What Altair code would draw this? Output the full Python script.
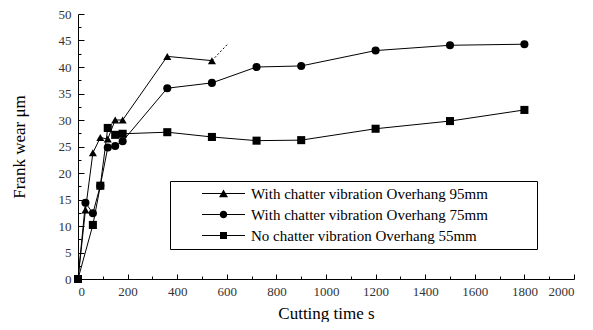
import altair as alt
import pandas as pd

series_names = [
    "With chatter vibration Overhang 95mm",
    "With chatter vibration Overhang 75mm",
    "No chatter vibration Overhang 55mm",
]
t95 = [0, 30, 60, 90, 120, 150, 180, 360, 540]
w95 = [0, 13.0, 23.8, 26.7, 26.4, 30.0, 30.0, 42.0, 41.2]
t75 = [0, 30, 60, 90, 120, 150, 180, 360, 540, 720, 900, 1200, 1500, 1800]
w75 = [0, 14.4, 12.4, 17.6, 24.8, 25.1, 26.0, 36.0, 37.0, 40.0, 40.2, 43.1, 44.1, 44.3]
t55 = [0, 60, 90, 120, 150, 180, 360, 540, 720, 900, 1200, 1500, 1800]
w55 = [0, 10.2, 17.6, 28.5, 27.2, 27.4, 27.7, 26.8, 26.1, 26.2, 28.35, 29.8, 31.9]
ext_t = [540, 607]
ext_w = [41.2, 44.5]

x_major = list(range(0, 2001, 200))
x_minor = list(range(100, 2000, 200))
y_major = list(range(0, 51, 5))
y_minor = [2.5 + 5 * i for i in range(10)]

rows = []
for name, ts, ws in zip(series_names, [t95, t75, t55], [w95, w75, w55]):
    for t, w in zip(ts, ws):
        rows.append({"series": name, "t": t, "w": w})
df = pd.DataFrame(rows)
ext = pd.DataFrame({"t": ext_t, "w": ext_w})

W, H = 496, 265
FONT = "Liberation Serif"

xs = alt.Scale(domain=[0, 2000], nice=False, zero=False)
ys = alt.Scale(domain=[0, 50], nice=False, zero=False)

base = alt.Chart(df)

lines = base.mark_line(color="black", strokeWidth=1).encode(
    x=alt.X("t:Q", scale=xs, axis=alt.Axis(orient="bottom", title="Cutting time s", values=x_major,
                                            ticks=False, domain=True, labelPadding=6, titlePadding=7,
                                            format="d", labelFont=FONT, titleFont=FONT)),
    y=alt.Y("w:Q", scale=ys, axis=alt.Axis(orient="left", title="Frank wear  μm", values=y_major,
                                            ticks=False, domain=True, labelPadding=7, titlePadding=30,
                                            labelFont=FONT, titleFont=FONT)),
    detail="series:N",
)

points = base.mark_point(filled=True, color="black", opacity=1, size=65).encode(
    x=alt.X("t:Q", scale=xs, axis=alt.Axis(orient="top", offset=-H, labels=False, domain=False,
                                            ticks=True, tickSize=5, values=x_major, title=None)),
    y=alt.Y("w:Q", scale=ys, axis=alt.Axis(orient="right", offset=-W, labels=False, domain=False,
                                            ticks=True, tickSize=6, values=y_major, title=None)),
    shape=alt.Shape("series:N", scale=alt.Scale(domain=series_names, range=["triangle-up", "circle", "square"]),
                    legend=None),
)

leg_paths = [
    "M-4.3,-0.1H4.3V0.1H-4.3ZM0,-0.8L0.9,0.75L-0.9,0.75Z",
    "M-4.3,-0.1H4.3V0.1H-4.3ZM0.75,0A0.75,0.75,0,1,1,-0.75,0A0.75,0.75,0,1,1,0.75,0Z",
    "M-4.3,-0.1H4.3V0.1H-4.3ZM-0.7,-0.7H0.7V0.7H-0.7Z",
]

legend_layer = base.mark_point(filled=True, color="black", opacity=0, size=100).encode(
    x=alt.X("t:Q", scale=xs, axis=alt.Axis(orient="top", offset=-H, labels=False, domain=False,
                                            ticks=True, tickSize=3, values=x_minor, title=None)),
    y=alt.Y("w:Q", scale=ys, axis=alt.Axis(orient="right", offset=-W, labels=False, domain=False,
                                            ticks=True, tickSize=3, values=y_minor, title=None)),
    shape=alt.Shape("series:N", scale=alt.Scale(domain=series_names, range=leg_paths),
                    legend=alt.Legend(orient="none", legendX=92, legendY=167, title=".",
                                      titleOrient="right", titlePadding=41, titleColor="transparent",
                                      titleFontSize=10,
                                      strokeColor="black", padding=5, symbolOffset=41,
                                      symbolFillColor="black", symbolStrokeWidth=0,
                                      symbolOpacity=1, labelOffset=20,
                                      labelFont=FONT, labelFontSize=15, labelColor="black",
                                      rowPadding=5, labelLimit=0)),
)

dotted = alt.Chart(ext).mark_line(color="black", strokeWidth=1, strokeDash=[2, 2]).encode(
    x=alt.X("t:Q", scale=xs, axis=None),
    y=alt.Y("w:Q", scale=ys, axis=None),
)

chart = alt.layer(lines, dotted, points, legend_layer).resolve_scale(
    shape="independent"
).resolve_axis(
    x="independent", y="independent"
).properties(
    width=W, height=H,
    autosize=alt.AutoSizeParams(type="none"),
    padding={"left": 70, "top": 6, "right": 10, "bottom": 43},
).configure_view(stroke=None).configure_axis(
    labelFont=FONT, labelFontSize=13, labelColor="#333333",
    titleFont=FONT, titleFontSize=17, titleFontWeight="normal", titleColor="black",
    domainColor="black", tickColor="black", domainWidth=1, tickWidth=1, grid=False,
).configure_legend(labelFont=FONT)

chart.save("out.html", embed_options={"renderer": "svg", "actions": False})
